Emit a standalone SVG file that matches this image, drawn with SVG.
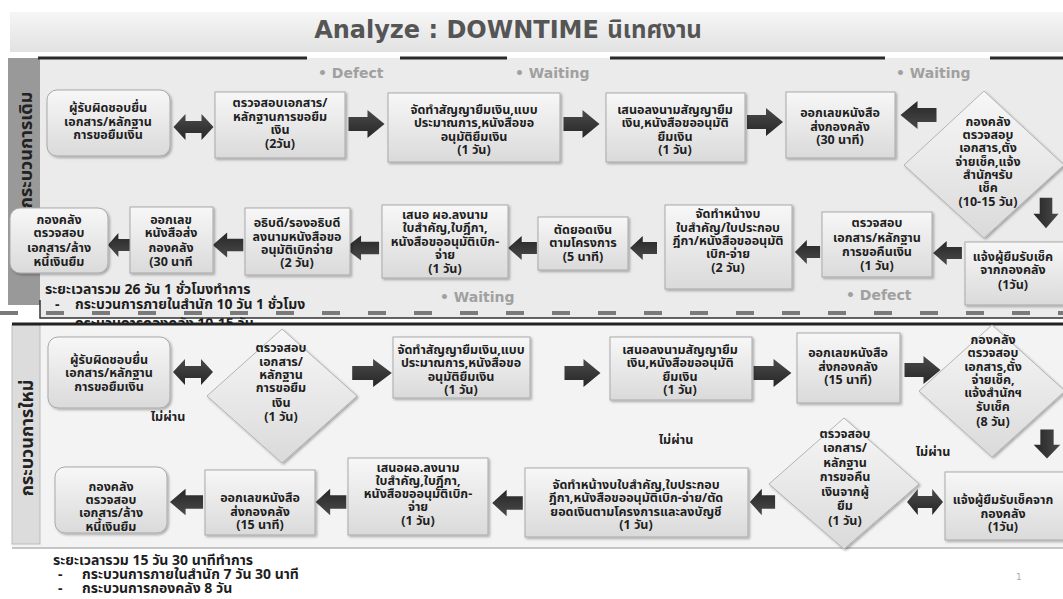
<svg xmlns="http://www.w3.org/2000/svg" width="1063" height="599" viewBox="0 0 1063 599">
<style>
.t{font-family:Tahoma,"Noto Sans Thai","Noto Sans","DejaVu Sans",sans-serif;font-size:12.5px;font-weight:bold;fill:#1e1e1e;text-anchor:middle}
.box{fill:url(#gBox);stroke:#a9a9a9;stroke-width:1;filter:url(#sh)}
.dia{fill:url(#gBox);stroke:#b3b3b3;stroke-width:1;filter:url(#sh)}
.lbl{font-family:"DejaVu Sans",sans-serif;font-size:14px;font-weight:bold;fill:#a0a0a0}
.note{font-family:Tahoma,"Noto Sans Thai","Noto Sans","DejaVu Sans",sans-serif;font-size:14px;font-weight:bold;fill:#1e1e1e}
.vl{font-family:Tahoma,"Noto Sans Thai","Noto Sans","DejaVu Sans",sans-serif;font-size:18px;font-weight:bold;fill:#222;text-anchor:middle}
.arr{fill:url(#gArr)}
</style>
<defs>
<linearGradient id="gBox" x1="0" y1="0" x2="0" y2="1"><stop offset="0" stop-color="#f7f7f7"/><stop offset="1" stop-color="#dadada"/></linearGradient>
<linearGradient id="gArr" x1="0" y1="0" x2="0" y2="1"><stop offset="0" stop-color="#4a4a4a"/><stop offset="1" stop-color="#262626"/></linearGradient>
<linearGradient id="gTitle" x1="0" y1="0" x2="0" y2="1"><stop offset="0" stop-color="#f6f6f6"/><stop offset="1" stop-color="#e2e2e2"/></linearGradient>
<filter id="sh" x="-10%" y="-10%" width="130%" height="130%"><feDropShadow dx="1.5" dy="1.5" stdDeviation="1" flood-color="#000" flood-opacity="0.3"/></filter>
<path id="ar" d="M-18,-7 H1 V-14 L18,0 L1,14 V7 H-18 Z"/>
<path id="dar" d="M-20,0 L-8,-13 V-6 H8 V-13 L20,0 L8,13 V6 H-8 V13 Z"/>
</defs>
<rect x="0" y="0" width="1063" height="599" fill="#ffffff"/>
<!-- title -->
<rect x="10" y="12" width="1053" height="40" fill="url(#gTitle)"/>
<text x="508" y="38" text-anchor="middle" font-family="'DejaVu Sans',Tahoma,'Noto Sans Thai',sans-serif" font-size="24" font-weight="bold" fill="#555">Analyze : DOWNTIME นิเทศงาน</text>

<!-- top section -->
<g id="top-panel">
<rect x="40" y="58" width="1023" height="260" fill="#ebebeb"/>
<rect x="8" y="58" width="32" height="247" fill="#999"/>
<text class="vl" transform="translate(32,150) rotate(-90)">กระบวนการเดิม</text>
<g stroke="#2a2a2a" stroke-width="3">
<line x1="38" y1="58" x2="307" y2="58"/><line x1="400" y1="58" x2="507" y2="58"/><line x1="610" y1="58" x2="885" y2="58"/><line x1="990" y1="58" x2="1063" y2="58"/>
</g>
<text class="lbl" x="318" y="78">•  Defect</text>
<text class="lbl" x="515" y="78">•  Waiting</text>
<text class="lbl" x="896" y="78">•  Waiting</text>
<text class="lbl" x="440" y="302">•  Waiting</text>
<text class="lbl" x="846" y="300">•  Defect</text>
<text class="note" x="45" y="294">ระยะเวลารวม 26 วัน 1 ชั่วโมงทำการ</text>
<text class="note"><tspan x="55" y="309">-</tspan><tspan x="75" y="309">กระบวนการภายในสำนัก 10 วัน 1 ชั่วโมง</tspan></text>
<text class="note" x="75" y="328">กระบวนการกองคลัง 10-15 วัน</text>
<line x1="0" y1="313" x2="1063" y2="313" stroke="#7a7a7a" stroke-width="4" stroke-dasharray="18,28"/>
<polyline points="40,300 40,318 1063,318" fill="none" stroke="#333" stroke-width="1.5"/>
</g>

<!-- bottom section -->
<g id="bottom-panel">
<rect x="12" y="324" width="1051" height="224" fill="#f3f3f3"/>
<rect x="12" y="325" width="28" height="219" fill="#dcdcdc" stroke="#bbb" stroke-width="1"/>
<line x1="12" y1="324" x2="1063" y2="324" stroke="#222" stroke-width="3"/>
<line x1="12" y1="548" x2="1063" y2="548" stroke="#b5b5b5" stroke-width="1.5"/>
<text class="vl" transform="translate(33,438) rotate(-90)" font-size="19">กระบวนการใหม่</text>
<text class="note" x="53" y="565">ระยะเวลารวม 15 วัน 30 นาทีทำการ</text>
<text class="note"><tspan x="58" y="579">-</tspan><tspan x="82" y="579">กระบวนการภายในสำนัก 7 วัน 30 นาที</tspan></text>
<text class="note"><tspan x="58" y="593">-</tspan><tspan x="82" y="593">กระบวนการกองคลัง 8 วัน</tspan></text>
<text x="1016" y="580" font-family="'DejaVu Sans',sans-serif" font-size="9" fill="#aaa">1</text>
</g>

<!-- connectors -->
<g id="connectors" class="arr">
<use href="#dar" transform="translate(193.5,127)"/>
<use href="#ar" transform="translate(366.5,124)"/>
<use href="#ar" transform="translate(581.5,124)"/>
<use href="#ar" transform="translate(765,122)"/>
<use href="#ar" transform="translate(918.5,115) rotate(180)"/>
<use href="#ar" transform="translate(1046,213) rotate(90) scale(0.85,0.9)"/>
<use href="#ar" transform="translate(947.5,253) rotate(180) scale(0.8,0.85)"/>
<use href="#ar" transform="translate(807.5,252) rotate(180) scale(0.7,0.85)"/>
<use href="#ar" transform="translate(643.5,248) rotate(180) scale(0.75,0.85)"/>
<use href="#ar" transform="translate(522.5,248) rotate(180) scale(0.8,0.85)"/>
<use href="#ar" transform="translate(362,248) rotate(180) scale(0.95,0.9)"/>
<use href="#ar" transform="translate(228,245) rotate(180) scale(0.85,0.9)"/>
<use href="#ar" transform="translate(119,245) rotate(180) scale(0.62,0.85)"/>
<use href="#dar" transform="translate(193,372)"/>
<use href="#ar" transform="translate(372,373) scale(1.1,1)"/>
<use href="#ar" transform="translate(582.5,373)"/>
<use href="#ar" transform="translate(772.5,373) scale(1.05,1)"/>
<use href="#ar" transform="translate(922.5,370)"/>
<use href="#ar" transform="translate(1047,444) rotate(90) scale(0.8,0.95)"/>
<use href="#dar" transform="translate(925,502) scale(0.9,1)"/>
<use href="#ar" transform="translate(762.5,502) rotate(180) scale(0.7,0.95)"/>
<use href="#ar" transform="translate(507.5,503) rotate(180) scale(0.85,0.95)"/>
<use href="#ar" transform="translate(331,502) rotate(180) scale(0.85,0.95)"/>
<use href="#ar" transform="translate(186.5,502) rotate(180) scale(0.92,0.95)"/>
</g>

<!-- top nodes -->
<g id="t1"><rect class="box" x="47" y="90" width="123" height="66" rx="10"/>
<text class="t"><tspan x="108" y="112">ผู้รับผิดชอบยื่น</tspan><tspan x="108" y="126">เอกสาร/หลักฐาน</tspan><tspan x="108" y="139">การขอยืมเงิน</tspan></text></g>
<g id="t2"><rect class="box" x="215" y="92" width="130" height="66"/>
<text class="t"><tspan x="280" y="107">ตรวจสอบเอกสาร/</tspan><tspan x="280" y="121">หลักฐานการขอยืม</tspan><tspan x="280" y="134">เงิน</tspan><tspan x="280" y="148">(2วัน)</tspan></text></g>
<g id="t3"><rect class="box" x="388" y="93" width="172" height="69"/>
<text class="t"><tspan x="474" y="114">จัดทำสัญญายืมเงิน,แบบ</tspan><tspan x="474" y="127">ประมาณการ,หนังสือขอ</tspan><tspan x="474" y="141">อนุมัติยืมเงิน</tspan><tspan x="474" y="154">(1 วัน)</tspan></text></g>
<g id="t4"><rect class="box" x="606" y="93" width="139" height="69"/>
<text class="t"><tspan x="675" y="114">เสนอลงนามสัญญายืม</tspan><tspan x="675" y="127">เงิน,หนังสือขออนุมัติ</tspan><tspan x="675" y="141">ยืมเงิน</tspan><tspan x="675" y="154">(1 วัน)</tspan></text></g>
<g id="t5"><rect class="box" x="786" y="92" width="109" height="66"/>
<text class="t"><tspan x="840" y="117">ออกเลขหนังสือ</tspan><tspan x="840" y="131">ส่งกองคลัง</tspan><tspan x="840" y="144">(30 นาที)</tspan></text></g>
<g id="t6"><polygon class="dia" points="984,91 1064,165 984,238 904,165"/>
<text class="t"><tspan x="988" y="126">กองคลัง</tspan><tspan x="988" y="139">ตรวจสอบ</tspan><tspan x="988" y="152">เอกสาร,ตั้ง</tspan><tspan x="988" y="166">จ่ายเช็ค,แจ้ง</tspan><tspan x="988" y="179">สำนักฯรับ</tspan><tspan x="988" y="192">เช็ค</tspan><tspan x="988" y="206">(10-15 วัน)</tspan></text></g>
<g id="t7"><rect class="box" x="965" y="242" width="103" height="63"/>
<text class="t"><tspan x="1013" y="261">แจ้งผู้ยืมรับเช็ค</tspan><tspan x="1013" y="274">จากกองคลัง</tspan><tspan x="1013" y="289">(1วัน)</tspan></text></g>
<g id="t8"><rect class="box" x="822" y="212" width="110" height="65"/>
<text class="t"><tspan x="877" y="227">ตรวจสอบ</tspan><tspan x="877" y="242">เอกสาร/หลักฐาน</tspan><tspan x="877" y="256">การขอคืนเงิน</tspan><tspan x="877" y="270">(1 วัน)</tspan></text></g>
<g id="t9"><rect class="box" x="665" y="205" width="127" height="84"/>
<text class="t"><tspan x="728" y="218">จัดทำหน้างบ</tspan><tspan x="728" y="232">ใบสำคัญ/ใบประกอบ</tspan><tspan x="728" y="245">ฎีกา/หนังสือขออนุมัติ</tspan><tspan x="728" y="258">เบิก-จ่าย</tspan><tspan x="728" y="272">(2 วัน)</tspan></text></g>
<g id="t10"><rect class="box" x="538" y="217" width="90" height="53"/>
<text class="t"><tspan x="583" y="234">ตัดยอดเงิน</tspan><tspan x="583" y="247">ตามโครงการ</tspan><tspan x="583" y="261">(5 นาที)</tspan></text></g>
<g id="t11"><rect class="box" x="382" y="205" width="126" height="73"/>
<text class="t"><tspan x="445" y="219">เสนอ ผอ.ลงนาม</tspan><tspan x="445" y="232">ใบสำคัญ,ใบฎีกา,</tspan><tspan x="445" y="246">หนังสือขออนุมัติเบิก-</tspan><tspan x="445" y="259">จ่าย</tspan><tspan x="445" y="273">(1 วัน)</tspan></text></g>
<g id="t12"><rect class="box" x="245" y="208" width="105" height="67"/>
<text class="t"><tspan x="297" y="227">อธิบดี/รองอธิบดี</tspan><tspan x="297" y="241">ลงนามหนังสือขอ</tspan><tspan x="297" y="254">อนุมัติเบิกจ่าย</tspan><tspan x="297" y="267">(2 วัน)</tspan></text></g>
<g id="t13"><rect class="box" x="130" y="207" width="83" height="66"/>
<text class="t"><tspan x="171" y="224">ออกเลข</tspan><tspan x="171" y="237">หนังสือส่ง</tspan><tspan x="171" y="252">กองคลัง</tspan><tspan x="171" y="266">(30 นาที</tspan></text></g>
<g id="t14"><rect class="box" x="10" y="208" width="98" height="65" rx="10"/>
<text class="t"><tspan x="59" y="224">กองคลัง</tspan><tspan x="59" y="237">ตรวจสอบ</tspan><tspan x="59" y="252">เอกสาร/ล้าง</tspan><tspan x="59" y="266">หนี้เงินยืม</tspan></text></g>

<!-- bottom nodes -->
<g id="b1"><rect class="box" x="48" y="337" width="122" height="71" rx="10"/>
<text class="t"><tspan x="109" y="364">ผู้รับผิดชอบยื่น</tspan><tspan x="109" y="377">เอกสาร/หลักฐาน</tspan><tspan x="109" y="391">การขอยืมเงิน</tspan></text></g>
<g id="b2"><polygon class="dia" points="282,329 357,396 282,463 207,396"/>
<text class="t"><tspan x="281" y="352">ตรวจสอบ</tspan><tspan x="281" y="366">เอกสาร/</tspan><tspan x="281" y="379">หลักฐาน</tspan><tspan x="281" y="392">การขอยืม</tspan><tspan x="281" y="407">เงิน</tspan><tspan x="281" y="421">(1 วัน)</tspan></text></g>
<g id="b3"><rect class="box" x="393" y="337" width="137" height="61"/>
<text class="t"><tspan x="461" y="354">จัดทำสัญญายืมเงิน,แบบ</tspan><tspan x="461" y="367">ประมาณการ,หนังสือขอ</tspan><tspan x="461" y="381">อนุมัติยืมเงิน</tspan><tspan x="461" y="394">(1 วัน)</tspan></text></g>
<g id="b4"><rect class="box" x="610" y="337" width="142" height="63"/>
<text class="t"><tspan x="680" y="354">เสนอลงนามสัญญายืม</tspan><tspan x="680" y="367">เงิน,หนังสือขออนุมัติ</tspan><tspan x="680" y="381">ยืมเงิน</tspan><tspan x="680" y="394">(1 วัน)</tspan></text></g>
<g id="b5"><rect class="box" x="797" y="333" width="103" height="70"/>
<text class="t"><tspan x="848" y="357">ออกเลขหนังสือ</tspan><tspan x="848" y="371">ส่งกองคลัง</tspan><tspan x="848" y="384">(15 นาที)</tspan></text></g>
<g id="b6"><polygon class="dia" points="992,325 1065,391 992,457 919,391"/>
<text class="t"><tspan x="993" y="344">กองคลัง</tspan><tspan x="993" y="357">ตรวจสอบ</tspan><tspan x="993" y="371">เอกสาร,ตั้ง</tspan><tspan x="993" y="384">จ่ายเช็ค,</tspan><tspan x="993" y="397">แจ้งสำนักฯ</tspan><tspan x="993" y="411">รับเช็ค</tspan><tspan x="993" y="426">(8 วัน)</tspan></text></g>
<g id="b7"><rect class="box" x="945" y="472" width="123" height="68"/>
<text class="t"><tspan x="1003" y="504">แจ้งผู้ยืมรับเช็คจาก</tspan><tspan x="1003" y="518">กองคลัง</tspan><tspan x="1003" y="531">(1วัน)</tspan></text></g>
<g id="b8"><polygon class="dia" points="844,418 919,484 844,549 769,484"/>
<text class="t"><tspan x="845" y="438">ตรวจสอบ</tspan><tspan x="845" y="452">เอกสาร/</tspan><tspan x="845" y="467">หลักฐาน</tspan><tspan x="845" y="481">การขอคืน</tspan><tspan x="845" y="496">เงินจากผู้</tspan><tspan x="845" y="510">ยืม</tspan><tspan x="845" y="525">(1 วัน)</tspan></text></g>
<g id="b9"><rect class="box" x="525" y="468" width="223" height="69"/>
<text class="t"><tspan x="636" y="489">จัดทำหน้างบใบสำคัญ,ใบประกอบ</tspan><tspan x="636" y="502">ฎีกา,หนังสือขออนุมัติเบิก-จ่าย/ตัด</tspan><tspan x="636" y="516">ยอดเงินตามโครงการและลงบัญชี</tspan><tspan x="636" y="529">(1 วัน)</tspan></text></g>
<g id="b10"><rect class="box" x="348" y="458" width="140" height="77"/>
<text class="t"><tspan x="418" y="472">เสนอผอ.ลงนาม</tspan><tspan x="418" y="485">ใบสำคัญ,ใบฎีกา,</tspan><tspan x="418" y="498">หนังสือขออนุมัติเบิก-</tspan><tspan x="418" y="511">จ่าย</tspan><tspan x="418" y="525">(1 วัน)</tspan></text></g>
<g id="b11"><rect class="box" x="205" y="470" width="110" height="65"/>
<text class="t"><tspan x="260" y="502">ออกเลขหนังสือ</tspan><tspan x="260" y="516">ส่งกองคลัง</tspan><tspan x="260" y="529">(15 นาที)</tspan></text></g>
<g id="b12"><rect class="box" x="55" y="467" width="112" height="66" rx="10"/>
<text class="t"><tspan x="111" y="491">กองคลัง</tspan><tspan x="111" y="504">ตรวจสอบ</tspan><tspan x="111" y="517">เอกสาร/ล้าง</tspan><tspan x="111" y="531">หนี้เงินยืม</tspan></text></g>

<!-- edge labels -->
<g id="labels">
<text class="t" x="168" y="421">ไม่ผ่าน</text>
<text class="t" x="676" y="444">ไม่ผ่าน</text>
<text class="t" x="933" y="456">ไม่ผ่าน</text>
</g>
</svg>
